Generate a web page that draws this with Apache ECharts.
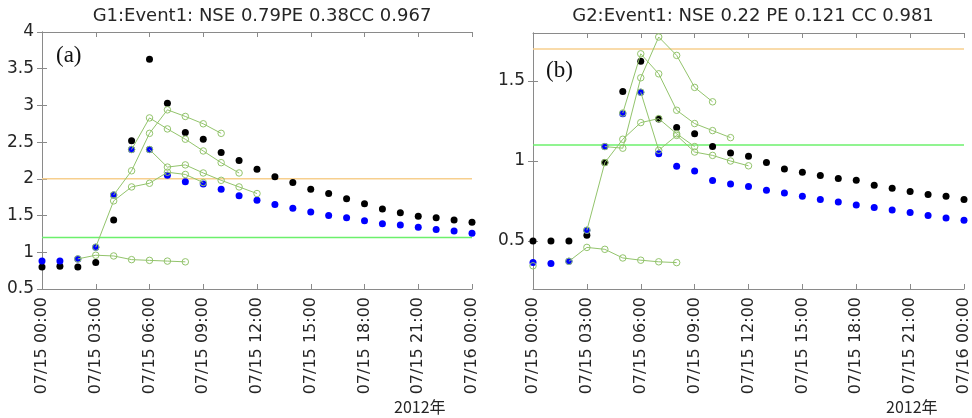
<!DOCTYPE html>
<html>
<head>
<meta charset="utf-8">
<script src="https://cdn.jsdelivr.net/npm/echarts@6/dist/echarts.min.js"></script>
<style>
  html, body { margin: 0; padding: 0; background: #fff; }
  #main { width: 972px; height: 418px; }
</style>
</head>
<body>
<div id="main"></div>
<script>
// hours since 07/15 00:00
const hours = [0,1,2,3,4,5,6,7,8,9,10,11,12,13,14,15,16,17,18,19,20,21,22,23,24];
const xTickLabels = ['07/15 00:00','07/15 03:00','07/15 06:00','07/15 09:00','07/15 12:00',
  '07/15 15:00','07/15 18:00','07/15 21:00','07/16 00:00'];

// --- G1 (a) ---
const g1Black = [0.80,0.81,0.80,0.86,1.44,2.52,3.63,3.03,2.63,2.54,2.36,2.25,2.13,2.03,1.95,
  1.86,1.80,1.73,1.66,1.59,1.54,1.49,1.47,1.44,1.41];
const g1Blue = [0.88,0.88,0.91,1.07,1.78,2.40,2.40,2.05,1.96,1.93,1.86,1.77,1.71,1.65,1.60,
  1.55,1.50,1.47,1.43,1.39,1.37,1.34,1.31,1.29,1.26];
// forecast runs: [start hour, values...]
const g1Fc2 = [2, 0.91,0.96,0.95,0.90,0.89,0.88,0.87];
const g1Fc3 = [3, 1.07,1.70,1.89,1.94,2.09,2.06,1.95];
const g1Fc4 = [4, 1.78,2.11,2.62,2.94,2.85,2.75,2.62];
const g1Fc5 = [5, 2.40,2.83,2.68,2.54,2.38,2.22,2.08];
const g1Fc6 = [6, 2.40,2.16,2.19,2.08,1.98,1.89,1.80];
const g1Orange = 2.0;
const g1Green = 1.2;

// --- G2 (b) ---
const g2Black = [0.50,0.50,0.50,0.536,0.99,1.434,1.623,1.263,1.21,1.17,1.09,1.05,1.03,0.99,0.95,
  0.93,0.91,0.89,0.88,0.848,0.83,0.81,0.79,0.78,0.76];
const g2Blue = [0.365,0.36,0.373,0.567,1.09,1.296,1.43,1.046,0.967,0.938,0.878,0.856,0.84,0.817,0.80,
  0.78,0.76,0.744,0.725,0.709,0.694,0.678,0.659,0.644,0.629];
const g2Fc0 = [0, 0.345];
const g2Fc2 = [2, 0.373,0.46,0.448,0.394,0.38,0.37,0.365];
const g2Fc3 = [3, 0.567,0.99,1.136,1.24,1.265,1.17,1.09];
const g2Fc4 = [4, 1.09,1.08,1.52,1.775,1.66,1.46,1.37];
const g2Fc5 = [5, 1.30,1.67,1.545,1.317,1.234,1.19,1.146];
const g2Fc6 = [6, 1.43,1.067,1.16,1.056,1.035,1.0,0.97];
const g2Orange = 1.7;
const g2Green = 1.1;

const FC_COLOR = '#93c46c';
const AXIS_COLOR = '#8a8a8a';
const TEXT_COLOR = '#262626';

function pairs(vals) {
  return hours.map(function(h, i) { return [h, vals[i]]; });
}
function fcPairs(run) {
  var start = run[0];
  return run.slice(1).map(function(v, i) { return [start + i, v]; });
}

function xAxes(gi) {
  return [{
    type: 'value', gridIndex: gi, min: 0, max: 24, interval: 3, position: 'bottom',
    axisLine: { lineStyle: { color: AXIS_COLOR } },
    axisTick: { inside: true, length: 5, lineStyle: { color: AXIS_COLOR } },
    splitLine: { show: false },
    axisLabel: {
      rotate: 90, margin: 8, color: TEXT_COLOR, fontSize: 16, fontFamily: 'DejaVu Sans',
      formatter: function(v) { return xTickLabels[Math.round(v / 3)]; }
    }
  }, {
    type: 'value', gridIndex: gi, min: 0, max: 24, interval: 3, position: 'top',
    axisLine: { show: true, lineStyle: { color: AXIS_COLOR } },
    axisTick: { inside: true, length: 5, lineStyle: { color: AXIS_COLOR } },
    splitLine: { show: false }, axisLabel: { show: false }
  }];
}

function yAxes(gi, min, max, interval, ticks) {
  var base = {
    type: 'value', gridIndex: gi, min: min, max: max, interval: interval,
    axisLine: { show: true, lineStyle: { color: AXIS_COLOR } },
    splitLine: { show: false }
  };
  var left = Object.assign({}, base, {
    position: 'left',
    axisTick: { inside: true, length: 5, lineStyle: { color: AXIS_COLOR } },
    axisLabel: { color: TEXT_COLOR, fontSize: 17, fontFamily: 'DejaVu Sans', margin: 8 }
  });
  var right = Object.assign({}, base, {
    position: 'right',
    axisTick: { inside: true, length: 5, lineStyle: { color: AXIS_COLOR } },
    axisLabel: { show: false }
  });
  if (ticks) {
    left.axisTick.customValues = ticks;
    left.axisLabel.customValues = ticks;
    right.axisTick.customValues = ticks;
  }
  return [left, right];
}

function panelSeries(xi, yi, black, blue, runs, orange, green) {
  var s = [];
  s.push({
    type: 'line', xAxisIndex: xi, yAxisIndex: yi, data: [[0, orange], [24, orange]],
    symbol: 'none', lineStyle: { color: '#f7cf8e', width: 1.5 }, z: 1, silent: true
  });
  s.push({
    type: 'line', xAxisIndex: xi, yAxisIndex: yi, data: [[0, green], [24, green]],
    symbol: 'none', lineStyle: { color: '#6cf06c', width: 1.5 }, z: 1, silent: true
  });
  s.push({
    type: 'scatter', xAxisIndex: xi, yAxisIndex: yi, data: pairs(black),
    symbolSize: 7, itemStyle: { color: '#000', opacity: 1 }, z: 3
  });
  s.push({
    type: 'scatter', xAxisIndex: xi, yAxisIndex: yi, data: pairs(blue),
    symbolSize: 7, itemStyle: { color: '#0000ff', opacity: 1 }, z: 3
  });
  runs.forEach(function(run) {
    s.push({
      type: 'line', xAxisIndex: xi, yAxisIndex: yi, data: fcPairs(run),
      symbol: 'circle', symbolSize: 6.5, showAllSymbol: true,
      lineStyle: { color: FC_COLOR, width: 1 },
      itemStyle: { color: 'rgba(255,255,255,0)', borderColor: FC_COLOR, borderWidth: 1 },
      z: 4
    });
  });
  return s;
}

var chart = echarts.init(document.getElementById('main'), null, { renderer: 'canvas' });
var ya = yAxes(0, 0.5, 4, 0.5, null);
var yb = yAxes(1, 0.2, 1.8, 0.1, [0.5, 1, 1.5]);

chart.setOption({
  animation: false,
  backgroundColor: '#fff',
  title: [{
    text: 'G1:Event1: NSE 0.79PE 0.38CC 0.967', left: 257, top: 2, textAlign: 'center',
    textStyle: { fontSize: 18, fontWeight: 'normal', color: TEXT_COLOR, fontFamily: 'DejaVu Sans' }
  }, {
    text: 'G2:Event1: NSE 0.22 PE 0.121 CC 0.981', left: 748, top: 2, textAlign: 'center',
    textStyle: { fontSize: 18, fontWeight: 'normal', color: TEXT_COLOR, fontFamily: 'DejaVu Sans' }
  }],
  grid: [
    { left: 42, right: 500, top: 32, bottom: 129 },
    { left: 533, right: 8, top: 33, bottom: 129 }
  ],
  xAxis: xAxes(0).concat(xAxes(1)),
  yAxis: ya.concat(yb),
  series: panelSeries(0, 0, g1Black, g1Blue, [g1Fc2, g1Fc3, g1Fc4, g1Fc5, g1Fc6], g1Orange, g1Green)
    .concat(panelSeries(2, 2, g2Black, g2Blue, [g2Fc0, g2Fc2, g2Fc3, g2Fc4, g2Fc5, g2Fc6], g2Orange, g2Green)),
  graphic: [
    { type: 'text', left: 56, top: 44, style: { text: '(a)', fontSize: 23, fontFamily: 'Liberation Serif', fill: '#111' } },
    { type: 'text', left: 546, top: 59, style: { text: '(b)', fontSize: 23, fontFamily: 'Liberation Serif', fill: '#111' } },
    { type: 'text', left: 394, top: 399, style: { text: '2012年', fontSize: 16, fontFamily: 'Noto Sans CJK JP', fill: TEXT_COLOR } },
    { type: 'text', left: 886, top: 399, style: { text: '2012年', fontSize: 16, fontFamily: 'Noto Sans CJK JP', fill: TEXT_COLOR } }
  ]
});
</script>
</body>
</html>
